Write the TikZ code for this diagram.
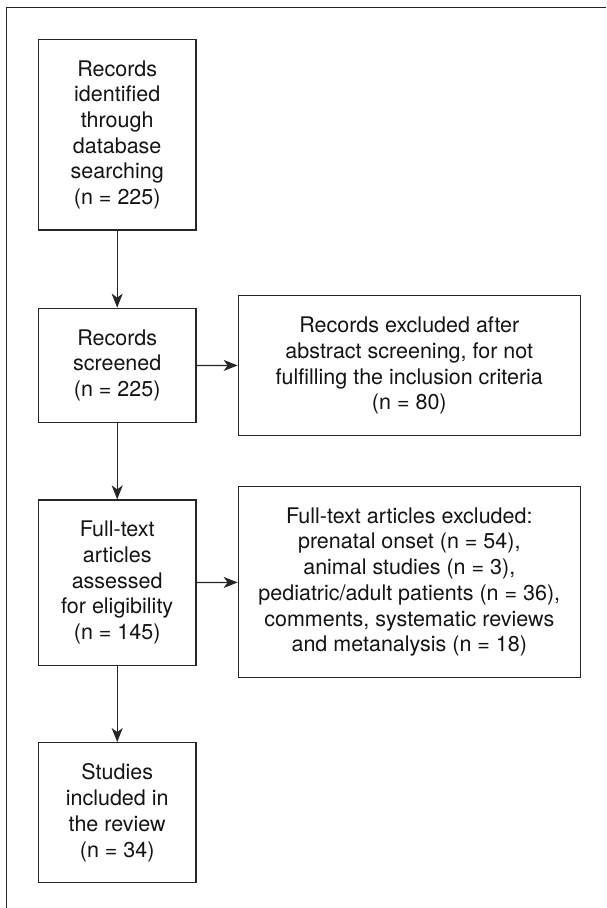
\documentclass[tikz,border=0pt]{standalone}
\usepackage{fontspec}
\setmainfont{TeX Gyre Heros}
\usetikzlibrary{arrows.meta}
\begin{document}
\begin{tikzpicture}[x=1pt,y=-1pt,
  box/.style={draw=black!85, line width=1.3pt, align=center, inner sep=0pt, text=black!92, font=\fontsize{21.5}{25.7}\selectfont},
  lbox/.style={box, minimum width=157.7pt},
  rbox/.style={box, minimum width=342pt},
  arr/.style={draw=black!85, line width=1.3pt, -{Stealth[length=14pt,width=11pt,inset=4pt]}}]
\useasboundingbox (0,0) rectangle (606,908);
\coordinate (ftr) at (606,7.3);
\coordinate (ftl) at (6.7,7.3);
\coordinate (fbl) at (6.7,908);
\draw[black!85, line width=1.5pt] (ftr) -- (ftl) -- (fbl);
\node[lbox, minimum height=190.7pt] (b1) at (117.2,134.7) {Records\\identified\\through\\database\\searching\\(n = 225)};
\node[lbox, minimum height=114pt] (b2) at (117.2,365.3) {Records\\screened\\(n = 225)};
\node[lbox, minimum height=165.3pt] (b3) at (117.2,582.7) {Full-text\\articles\\assessed\\for eligibility\\(n = 145)};
\node[lbox, minimum height=140pt] (b4) at (117.2,812.7) {Studies\\included in\\the review\\(n = 34)};
\node[rbox, minimum height=140pt] (r1) at (409.3,365.7) {Records excluded after\\abstract screening, for not\\fulfilling the inclusion criteria\\(n = 80)};
\node[rbox, minimum height=190.7pt] (r2) at (409.3,582) {Full-text articles excluded:\\prenatal onset (n = 54),\\animal studies (n = 3),\\pediatric/adult patients (n = 36),\\comments, systematic reviews\\and metanalysis (n = 18)};
\draw[arr] (b1) -- (b2);
\draw[arr] (b2) -- (b3);
\draw[arr] (b3) -- (b4);
\draw[arr] (b2) -- (r1);
\draw[arr] (b3) -- (r2);
\end{tikzpicture}
\end{document}
